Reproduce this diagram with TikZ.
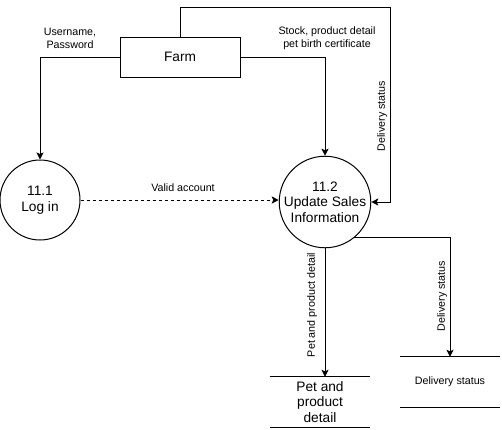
\documentclass[tikz,border=0pt]{standalone}
\usepackage{fontspec}
\setmainfont{Liberation Sans}
\usepackage{tikz}
\usetikzlibrary{arrows.meta}
\usetikzlibrary{positioning}
\tikzset{%
  myedge/.style={-{Stealth[length=7pt,width=7pt,inset=1.5pt]}, line width=1pt},
  myproc/.style={circle, draw=black, line width=1pt, inner sep=0pt, align=center, font=\fontsize{13.7}{15.5}\selectfont},
  myentity/.style={rectangle, draw=black, line width=1pt, minimum width=120pt, minimum height=40pt, font=\fontsize{13.7}{15.5}\selectfont},
  mystore/.style={rectangle, minimum width=100pt, minimum height=50pt, align=center, inner sep=0pt},
  mylabel/.style={align=center, inner sep=0pt, font=\fontsize{10.7}{12.8}\selectfont}
}

\begin{document}
\begin{tikzpicture}[x=1pt, y=-1pt]
  \useasboundingbox (0,0) rectangle (502,429);
  \node[myentity] (farm) at (180,57) {Farm};
  \node[myproc, minimum size=80pt] (p1) at (40,200) {11.1\\Log in};
  \node[myproc, minimum size=90pt] (p2) at (325,202) {11.2\\Update Sales\\Information};
  \node[mystore, font=\fontsize{13.7}{15.5}\selectfont] (s1) at (320,402) {Pet and\\product\\detail};
  \node[mystore, font=\fontsize{10.7}{12.8}\selectfont] (s2) at (450,382) {Delivery status};
  \draw [line width=1pt] (s1.north west) -- (s1.north east);
  \draw [line width=1pt] (s1.south west) -- (s1.south east);
  \draw [line width=1pt] (s2.north west) -- (s2.north east);
  \draw [line width=1pt] (s2.south west) -- (s2.south east);
  \coordinate (top) at (390,7);
  \draw [myedge] (farm.west) -| (p1.north);
  \draw [myedge] (farm.east) -| (p2.north);
  \draw [myedge] (farm.north) -- (farm.north |- top) -- (top) |- (p2.east);
  \draw [myedge, dashed, dash pattern=on 3pt off 3pt] (p1.east) -- (p1.east -| p2.west);
  \draw [myedge] (p2.south) -- (p2.south |- s1.north);
  \draw [myedge] (p2.-51) -| (s2.north);
  \node[mylabel] (lbuser) at (70,38) {Username,\\Password};
  \node[mylabel] (lbstock) at (327,38) {Stock, product detail\\pet birth certificate};
  \node[mylabel] (lbvalid) at (183,188) {Valid account};
  \node[mylabel, rotate=90] (lbdel1) at (382,116) {Delivery status};
  \node[mylabel, rotate=90] (lbpet) at (312,305) {Pet and product detail};
  \node[mylabel, rotate=90] (lbdel2) at (442,296) {Delivery status};
\end{tikzpicture}
\end{document}
